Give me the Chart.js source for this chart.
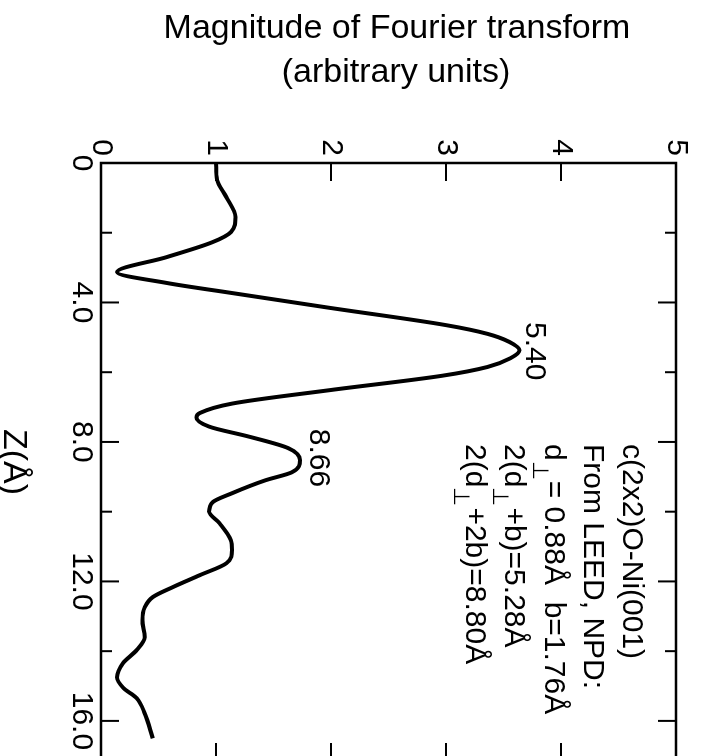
<!DOCTYPE html>
<html>
<head>
<meta charset="utf-8">
<script src="https://cdn.jsdelivr.net/npm/chart.js@4.4.1/dist/chart.umd.min.js"></script>
<style>
    html, body { margin: 0; padding: 0; background: #fff; width: 701px; height: 756px; overflow: hidden; }
    /* the figure is printed sideways: draw it normally, then turn it 90deg clockwise */
    #wrap { position: absolute; left: 0; top: 0; width: 800px; height: 701px;
            transform-origin: 0 0; transform: translate(701px, 0) rotate(90deg); }
</style>
</head>
<body>
<div id="wrap"><canvas id="chart" width="800" height="701"></canvas></div>
<script>
// Z (Angstrom) and magnitude of the Fourier transform
const zValues = [0, 0.49, 0.98, 1.55, 1.98, 2.27, 2.70, 3.13, 3.44, 3.73, 4.16, 4.65,
    4.90, 5.13, 5.37, 5.60, 5.85, 6.10, 6.51, 6.90, 7.17, 7.30, 7.56, 7.85,
    8.18, 8.52, 8.87, 9.10, 9.47, 9.73, 10.0, 10.33, 10.82, 11.10, 11.48, 11.82,
    12.17, 12.45, 12.74, 13.11, 13.60, 13.97, 14.35, 14.75, 15.04, 15.35, 15.78, 16.50];
const magnitude = [1.00, 1.01, 1.09, 1.17, 1.13, 0.97, 0.57, 0.14, 0.57, 1.14, 2.00, 3.00,
    3.36, 3.55, 3.64, 3.56, 3.36, 2.97, 2.00, 1.14, 0.86, 0.83, 0.94, 1.29,
    1.63, 1.73, 1.66, 1.43, 1.14, 0.97, 0.94, 1.03, 1.13, 1.14, 1.09, 0.86,
    0.62, 0.45, 0.38, 0.36, 0.38, 0.31, 0.19, 0.14, 0.19, 0.31, 0.38, 0.45];

// axes
const zLabelValues = [0, 4, 8, 12, 16];
const zTickLabels = ['0', '4.0', '8.0', '12.0', '16.0'];
const zMajorTicks = [4, 8, 12, 16];
const zMinorTicks = [2, 6, 10, 14];
const magTicks = [1, 2, 3, 4];
const magTickLabels = ['0', '1', '2', '3', '4', '5'];

// text on the plot
const peakLabels = ['5.40', '8.66'];
const peakLabelZ = [5.40, 8.46];
const peakLabelMag = [3.70, 1.82];
const infoLines = [
    [['c(2x2)O-Ni(001)']],
    [['From LEED, NPD:']],
    [['d'], ['⊥', true], ['= 0.88Å  b=1.76Å']],
    [['2(d'], ['⊥', true], ['+b)=5.28Å']],
    [['2(d'], ['⊥', true], ['+2b)=8.80Å']]
];
const infoZ = 8.06;
const infoMag = [4.54, 4.20, 3.86, 3.51, 3.17];

const FONT = "'Liberation Sans', Arial, sans-serif";

const framePlugin = {
    id: 'frame',
    afterDraw(chart) {
        const { ctx, chartArea: a, scales: { x, y } } = chart;
        ctx.save();
        ctx.strokeStyle = '#000';
        ctx.lineWidth = 2.5;
        ctx.strokeRect(a.left, a.top, a.right - a.left, a.bottom - a.top);

        // inward ticks on all four sides
        ctx.lineWidth = 2;
        ctx.beginPath();
        zMajorTicks.concat(zMinorTicks).forEach(v => {
            const px = x.getPixelForValue(v);
            const len = zMajorTicks.includes(v) ? 18 : 11;
            ctx.moveTo(px, a.bottom); ctx.lineTo(px, a.bottom - len);
            ctx.moveTo(px, a.top); ctx.lineTo(px, a.top + len);
        });
        magTicks.forEach(v => {
            const py = y.getPixelForValue(v);
            ctx.moveTo(a.left, py); ctx.lineTo(a.left + 18, py);
            ctx.moveTo(a.right, py); ctx.lineTo(a.right - 18, py);
        });
        ctx.stroke();

        ctx.fillStyle = '#000';
        ctx.textBaseline = 'alphabetic';

        // peak positions
        ctx.font = '30px ' + FONT;
        ctx.textAlign = 'center';
        peakLabels.forEach((t, i) => {
            ctx.fillText(t, x.getPixelForValue(peakLabelZ[i]), y.getPixelForValue(peakLabelMag[i]));
        });

        // structure note
        ctx.textAlign = 'left';
        infoLines.forEach((parts, i) => {
            let px = x.getPixelForValue(infoZ);
            const py = y.getPixelForValue(infoMag[i]);
            parts.forEach(([t, sub]) => {
                ctx.font = (sub ? '22px ' : '30px ') + FONT;
                ctx.fillText(t, px, py + (sub ? 12 : 0));
                px += ctx.measureText(t).width + (sub ? 1 : 0);
            });
        });

        // x title, under the tick labels
        ctx.font = '34px ' + FONT;
        ctx.textAlign = 'center';
        ctx.fillText('Z(Å)', (a.left + a.right) / 2, chart.height - 4);

        // magnitude title: reads across the top once the page is turned
        ctx.save();
        ctx.translate(38, 304);
        ctx.rotate(-Math.PI / 2);
        ctx.fillText('Magnitude of Fourier transform', 0, 0);
        ctx.restore();
        ctx.save();
        ctx.translate(82, 305);
        ctx.rotate(-Math.PI / 2);
        ctx.fillText('(arbitrary units)', 0, 0);
        ctx.restore();

        ctx.restore();
    }
};

new Chart(document.getElementById('chart'), {
    type: 'line',
    data: {
        datasets: [{
            data: zValues.map((z, i) => ({ x: z, y: magnitude[i] })),
            borderColor: '#000',
            borderWidth: 4,
            pointRadius: 0,
            cubicInterpolationMode: 'monotone',
            fill: false
        }]
    },
    options: {
        responsive: false,
        devicePixelRatio: 1,
        animation: false,
        layout: { padding: { left: 0, top: 21, right: 39, bottom: 0 } },
        plugins: { legend: { display: false }, tooltip: { enabled: false } },
        scales: {
            x: {
                type: 'linear',
                min: 0,
                max: 17.15,
                grid: { display: false, drawTicks: false },
                border: { display: false },
                afterFit: scale => { scale.height = 101; },
                afterBuildTicks: scale => { scale.ticks = zLabelValues.map(v => ({ value: v })); },
                ticks: {
                    padding: 2,
                    maxRotation: 0,
                    autoSkip: false,
                    color: '#000',
                    font: { family: FONT, size: 30 },
                    callback: (v, i) => zTickLabels[i]
                }
            },
            y: {
                min: 0,
                max: 5,
                grid: { display: false, drawTicks: false },
                border: { display: false },
                afterFit: scale => { scale.width = 163; },
                ticks: {
                    stepSize: 1,
                    padding: 7,
                    color: '#000',
                    font: { family: FONT, size: 30 },
                    callback: (v, i) => magTickLabels[i]
                }
            }
        }
    },
    plugins: [framePlugin]
});
</script>
</body>
</html>
